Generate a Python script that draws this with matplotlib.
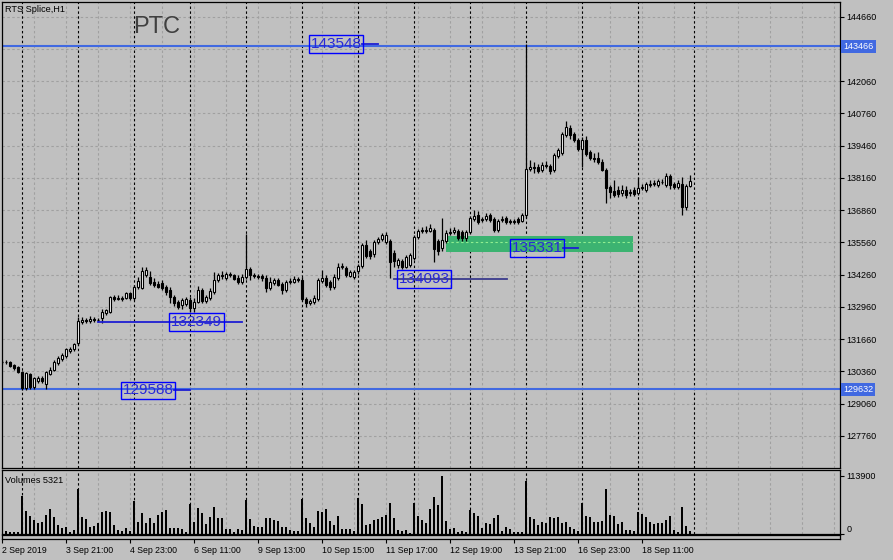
import numpy as np
import matplotlib.pyplot as plt
from matplotlib.patches import Rectangle

plt.rcParams['font.family'] = ['Liberation Sans', 'DejaVu Sans']

# RTS Splice H1 bars, 2 Sep 2019 19:00 .. 18 Sep 2019 23:00
opens = [
    130730, 130740, 130730, 130610, 130530, 130330, 129690, 130250, 129730, 129970,
    130090, 129850, 130250, 130410, 130700, 130860, 130980, 131180, 131260, 131500,
    132350, 132430, 132390, 132480, 132420, 132500, 132710, 132760, 133370, 133290,
    133330, 133330, 133500, 133330, 133770, 133730, 134250, 134170, 133970, 133880,
    133910, 133770, 133640, 133370, 133160, 133030, 133070, 133240, 132900, 133170,
    133640, 133190, 133330, 133570, 134040, 134240, 134130, 134270, 134230, 134140,
    133960, 134180, 134490, 134240, 134200, 134200, 134130, 133730, 133920, 134040,
    133880, 133640, 133950, 133960, 134080, 134040, 133280, 133100, 133170, 133280,
    133990, 134140, 133950, 133770, 134120, 134580, 134530, 134220, 134170, 134400,
    134620, 135450, 135210, 135080, 135580, 135710, 135590, 135620, 135120, 134640,
    134810, 134580, 134650, 134920, 135790, 136050, 136000, 136020, 136060, 135620,
    135320, 135610, 135930, 135960, 136000, 135970, 135720, 135970, 136500, 136660,
    136460, 136500, 136660, 136500, 136060, 136460, 136550, 136410, 136380, 136500,
    136420, 136660, 138520, 138600, 138600, 138480, 138640, 138640, 138480, 139040,
    139160, 139890, 140170, 139930, 139690, 139320, 139690, 139200, 138960, 138960,
    138810, 138480, 137790, 137630, 137670, 137550, 137670, 137590, 137670, 137550,
    137750, 137670, 137870, 137910, 137870, 138000, 137870, 138240, 137910, 137800,
    137910, 136990, 137830]
closes = [
    130740, 130720, 130570, 130490, 130330, 129690, 130290, 129730, 130090, 130090,
    129970, 130330, 130410, 130730, 130900, 131020, 131260, 131260, 131460, 132390,
    132430, 132390, 132480, 132420, 132440, 132750, 132830, 133370, 133290, 133330,
    133290, 133500, 133330, 133770, 134000, 134400, 134450, 133910, 133840, 133760,
    133710, 133570, 133350, 133100, 132960, 133230, 133270, 132900, 133170, 133640,
    133190, 133370, 133610, 134040, 134240, 134200, 134270, 134230, 134100, 133960,
    134180, 134490, 134240, 134200, 134180, 134110, 133730, 133960, 134040, 133860,
    133640, 133950, 133990, 134080, 134040, 133280, 133100, 133190, 133320, 134040,
    134140, 133830, 133770, 134150, 134580, 134620, 134240, 134350, 134360, 134620,
    135450, 135020, 135020, 135560, 135700, 135860, 135870, 134780, 134810, 134850,
    134580, 134980, 135050, 135790, 136020, 136000, 136050, 136120, 135290, 135210,
    135650, 135930, 135990, 136040, 135720, 135720, 135970, 136530, 136640, 136390,
    136500, 136640, 136480, 136060, 136420, 136500, 136390, 136380, 136420, 136380,
    136660, 138520, 138600, 138560, 138440, 138680, 138680, 138440, 139080, 139280,
    139930, 140210, 139890, 139690, 139320, 139690, 139120, 138960, 138920, 138800,
    138480, 137750, 137590, 137470, 137510, 137670, 137470, 137550, 137510, 137760,
    137790, 137910, 137910, 137950, 138030, 137990, 138240, 137870, 137800, 137960,
    136990, 137830, 138030]
highs = [
    130810, 130800, 130770, 130650, 130570, 130370, 130330, 130290, 130130, 130170,
    130170, 130370, 130530, 130810, 130980, 131100, 131300, 131340, 131500, 132550,
    132550, 132510, 132590, 132550, 132510, 132870, 132870, 133410, 133450, 133450,
    133410, 133570, 133540, 133850, 134160, 134560, 134560, 134410, 134120, 134000,
    134030, 133850, 133770, 133450, 133240, 133310, 133350, 133350, 133310, 133800,
    133720, 133440, 133730, 134380, 134330, 134400, 134370, 134370, 134290, 134240,
    134270, 135890, 134570, 134330, 134280, 134280, 134240, 134160, 134120, 134120,
    133960, 134040, 134120, 134200, 134160, 134160, 133360, 133270, 133440, 134120,
    134450, 134240, 134030, 134280, 134720, 134710, 134610, 134440, 134450, 134700,
    135530, 135650, 135290, 135650, 135780, 135940, 135980, 135700, 135250, 134930,
    134890, 135060, 135130, 135870, 136100, 136180, 136220, 136290, 136140, 135700,
    136540, 136060, 136150, 136180, 136100, 136060, 136060, 136610, 136850, 136820,
    136580, 136740, 136740, 136580, 136500, 136620, 136620, 136500, 136500, 136580,
    136740, 143550, 138880, 138800, 138720, 138800, 138850, 138720, 139160, 139360,
    140010, 140450, 140290, 140010, 139770, 139810, 139850, 139280, 139160, 139200,
    138920, 138560, 137870, 138070, 137830, 137870, 137830, 137710, 137790, 138200,
    137910, 137990, 138070, 138070, 138110, 138110, 138350, 138310, 137990, 138070,
    138200, 137910, 138280]
lows = [
    130650, 130660, 130530, 130410, 130290, 129610, 129620, 129650, 129650, 129890,
    129890, 129650, 130210, 130370, 130610, 130770, 130900, 131100, 131180, 131420,
    132270, 132310, 132310, 132340, 132350, 132310, 132630, 132720, 133200, 133250,
    133210, 133290, 133250, 133250, 133690, 133690, 134160, 133830, 133750, 133700,
    133630, 133450, 133110, 132990, 132880, 132870, 132990, 132750, 132760, 133110,
    133110, 133110, 133250, 133490, 133960, 134100, 134040, 134160, 134040, 133880,
    133880, 134100, 134040, 134120, 134100, 134020, 133570, 133650, 133850, 133780,
    133490, 133570, 133880, 133920, 133960, 133200, 132970, 133030, 133090, 133200,
    133920, 133770, 133650, 133690, 134040, 134500, 134160, 134160, 134100, 134300,
    134520, 134940, 134900, 134980, 135490, 135620, 135510, 134110, 134570, 134520,
    134480, 134520, 134560, 134840, 135710, 135930, 135920, 135960, 134770, 135050,
    135200, 135530, 135850, 135890, 135660, 135610, 135620, 135890, 136420, 136300,
    136380, 136420, 136400, 135980, 135980, 136380, 136300, 136300, 136300, 136300,
    136380, 136540, 138440, 138360, 138360, 138400, 138560, 138320, 138400, 138960,
    139080, 139810, 139730, 139610, 139240, 138600, 139040, 138880, 138800, 138720,
    138440, 137150, 137350, 137390, 137390, 137430, 137350, 137430, 137430, 137470,
    137670, 137590, 137790, 137830, 137790, 137910, 137790, 137710, 137710, 137710,
    136660, 136870, 137790]
volumes = [
    4000, 5200, 3900, 3900, 3900, 74200, 44900, 35200, 27300, 22100,
    23400, 37100, 48200, 32600, 17600, 11100, 14300, 4600, 7800, 88500,
    33900, 28600, 13000, 15600, 22100, 42300, 44900, 42300, 17600, 7800,
    6500, 11700, 5900, 65100, 23400, 41700, 22100, 30600, 22100, 37100,
    42300, 46900, 12400, 12400, 11100, 9800, 4600, 58600, 23400, 50100,
    40400, 19500, 33900, 53400, 30600, 30600, 9800, 9800, 3900, 9800,
    7800, 66400, 29300, 15600, 14300, 14300, 30600, 30600, 27300, 26000,
    13000, 13000, 7800, 5900, 5200, 68400, 31200, 20800, 13700, 44900,
    43600, 48800, 25400, 17600, 35200, 9800, 9100, 10400, 5200, 70300,
    57900, 17600, 19500, 27300, 29300, 32600, 37100, 59900, 31900, 7800,
    5200, 7200, 2600, 61200, 35200, 27300, 22100, 48800, 72300, 56600,
    113300, 25400, 9800, 11700, 3900, 6500, 4600, 46900, 41700, 35200,
    11700, 21500, 20200, 31200, 37100, 6500, 13700, 10400, 4600, 4600,
    4600, 103500, 33200, 29300, 17600, 22800, 22100, 33200, 31900, 33200,
    22100, 23400, 13700, 9800, 6500, 61200, 35800, 33900, 24100, 23400,
    25400, 87900, 37100, 35800, 20200, 23400, 8500, 8500, 6500, 43000,
    39700, 33900, 23400, 20200, 21500, 21500, 27300, 35200, 7800, 3900,
    52700, 15600, 6500]

price_ticks = [127760, 129060, 130360, 131660, 132960, 134260, 135560,
               136860, 138160, 139460, 140760, 142060, 143360, 144660]
xtick_labels = ['2 Sep 2019', '3 Sep 21:00', '4 Sep 23:00', '6 Sep 11:00',
                '9 Sep 13:00', '10 Sep 15:00', '11 Sep 17:00', '12 Sep 19:00',
                '13 Sep 21:00', '16 Sep 23:00', '18 Sep 11:00']
session_starts = [5, 19, 33, 47, 61, 75, 89, 103, 117, 131, 145, 159, 173]
level_values = [143548, 132349, 134093, 135331, 129588]
hline_values = [143466, 129632]
zone_low, zone_high = 135171, 135816
zone_bars = (111, 157.75)

# label layout (bar units)
label_x = [83.5, 48.6, 105.5, 133.75, 36.5]
label_lines = [(90, 94), (24, 60), (98, 126.25), (140.25, 144), (43, 47)]
line_colors = ['#1e1ed2', '#1e1ed2', '#3c3c8c', '#1e1ed2', '#1e1ed2']

BG = '#c0c0c0'
GRID = '#a0a0a0'
W, H = 893, 560
fig = plt.figure(figsize=(W / 100, H / 100), dpi=100, facecolor=BG)


def box(x0, y0, x1, y1):
    return [x0 / W, 1 - y1 / H, (x1 - x0) / W, (y1 - y0) / H]


ax = fig.add_axes(box(2, 2, 840, 468), facecolor=BG)
axv = fig.add_axes(box(2, 470, 840, 534), facecolor=BG)
axs = fig.add_axes(box(2, 535, 840, 539), facecolor=BG)
XMAX = 838 / 4
for a in (ax, axv, axs):
    a.set_xlim(0, XMAX)
    for sp in a.spines.values():
        sp.set_color('black')
        sp.set_linewidth(0.9)
    a.tick_params(axis='x', bottom=False, labelbottom=False)


def vgrid(a):
    for k in range(1, 27):
        a.axvline(8 * k, color=GRID, lw=0.8, dashes=(2.2, 2.2), zorder=0.5)
    for d in session_starts:
        a.axvline(d, color='black', lw=0.8, dashes=(2.2, 2.2), zorder=0.6)


# ---- price panel ----
ax.set_ylim(126460, 145253)
vgrid(ax)
for p in price_ticks:
    ax.axhline(p, color=GRID, lw=0.8, dashes=(2.2, 2.2), zorder=0.5)

ax.add_patch(Rectangle((zone_bars[0], zone_low), zone_bars[1] - zone_bars[0],
                       zone_high - zone_low, facecolor='#3cb371', edgecolor='none', zorder=1))
ax.plot(zone_bars, [135560, 135560], color='#90ee90', lw=0.8, dashes=(2.2, 2.2), zorder=1.1)

n = len(closes)
x = np.arange(n)
o = np.array(opens)
c = np.array(closes)
hi = np.maximum(np.array(highs), np.maximum(o, c))
lo = np.minimum(np.array(lows), np.minimum(o, c))
up = c >= o
ax.vlines(x, lo, hi, color='black', lw=0.9, zorder=3)
body_lo = np.minimum(o, c)
body_h = np.maximum(np.abs(c - o), 20)
ax.bar(x[up], body_h[up], bottom=body_lo[up], width=0.62, color='white',
       edgecolor='black', lw=0.8, zorder=4)
ax.bar(x[~up], body_h[~up], bottom=body_lo[~up], width=0.62, color='black',
       edgecolor='black', lw=0.8, zorder=4)

for v in hline_values:
    ax.axhline(v, color='#4169e1', lw=1.5, zorder=2)
    ax.text(1.0036, v, str(v), transform=ax.get_yaxis_transform(), ha='left', va='center',
            fontsize=6.5, color='white', zorder=10, clip_on=False,
            bbox=dict(boxstyle='square,pad=0.25', facecolor='#4169e1', edgecolor='none'))

for val, xc, (x0, x1), col in zip(level_values, label_x, label_lines, line_colors):
    ax.plot([x0, x1], [val, val], color=col, lw=1.3, zorder=5)
    ax.text(xc, val, str(val), ha='center', va='center', fontsize=11, color='#2828d8',
            zorder=6, bbox=dict(boxstyle='square,pad=0.12', facecolor='none',
                                edgecolor='#0000ff', lw=1))

ax.yaxis.tick_right()
ax.set_yticks(price_ticks)
# 143360 sits under the highlighted 143466 price label, as in the terminal
ax.set_yticklabels(['' if p == 143360 else str(p) for p in price_ticks])
ax.tick_params(axis='y', direction='out', length=3, width=0.8, pad=1.5,
               labelsize=6.5, colors='black')

ax.text(0.004, 0.993, 'RTS Splice,H1', transform=ax.transAxes, ha='left', va='top',
        fontsize=6.6, color='black')
fig.text(133 / W, 1 - 27 / H, 'PTC', fontsize=17, color='#404040', ha='left', va='center')

# ---- volume panel ----
axv.set_ylim(0, 125000)
vgrid(axv)
axv.bar(x, volumes, width=0.5, color='black', zorder=3)
axv.yaxis.tick_right()
axv.set_yticks([0, 113900])
axv.set_yticklabels(['0', '113900'])
axv.tick_params(axis='y', direction='out', length=3, width=0.8, pad=1.5, labelsize=6.5)
axv.get_yticklabels()[0].set_va('bottom')
axv.text(0.004, 0.84, 'Volumes 5321', transform=axv.transAxes, ha='left', va='center',
         fontsize=6.6, color='black')

# ---- time strip ----
axs.set_yticks([])
axs.set_xticks(range(0, 161, 16))
axs.set_xticklabels(xtick_labels)
axs.tick_params(axis='x', bottom=True, labelbottom=True, direction='out', length=3,
                width=0.8, pad=2, labelsize=6.3)
for lbl in axs.get_xticklabels():
    lbl.set_ha('left')

fig.savefig('out.png', dpi=100, facecolor=BG)
